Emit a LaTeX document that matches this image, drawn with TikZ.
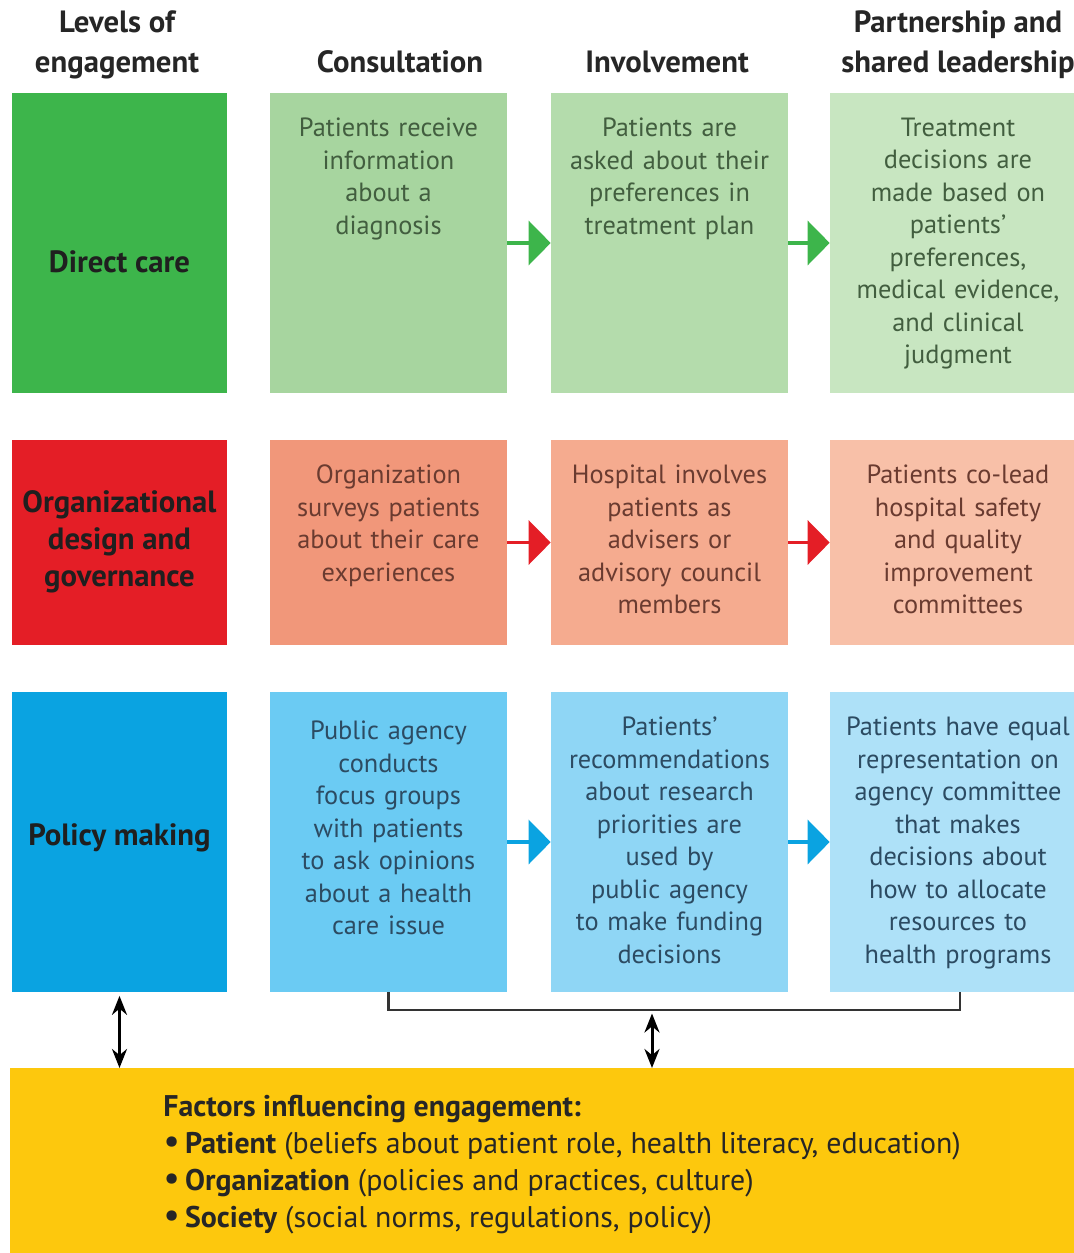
\documentclass[tikz,border=0pt]{standalone}
\usepackage{fontspec}
\setmainfont{PT Sans}
\usetikzlibrary{positioning}
\usetikzlibrary{arrows.meta}
\definecolor{verdeA}{HTML}{3DB54B}
\definecolor{verdeB}{HTML}{A7D59F}
\definecolor{verdeC}{HTML}{B4DCAC}
\definecolor{verdeD}{HTML}{C8E6C1}
\definecolor{rojoA}{HTML}{E41E26}
\definecolor{rojoB}{HTML}{F1977A}
\definecolor{rojoC}{HTML}{F5AB8F}
\definecolor{rojoD}{HTML}{F8C0A8}
\definecolor{azulA}{HTML}{0AA3E1}
\definecolor{azulB}{HTML}{6BCBF3}
\definecolor{azulC}{HTML}{8FD6F5}
\definecolor{azulD}{HTML}{AEE1F8}
\definecolor{amarillo}{HTML}{FDC80D}
\definecolor{textoV}{HTML}{425E3F}
\definecolor{textoR}{HTML}{6A3B30}
\definecolor{textoA}{HTML}{2C4B62}
\newcommand{\punto}{\smash{\fontsize{21}{21}\selectfont\textbullet}}

\begin{document}
\begin{tikzpicture}[x=0.02cm, y=-0.02cm,
	caja/.style={inner sep=0pt, minimum height=#1},
	celda/.style={inner sep=0pt, align=center, text width=4.8cm, font=\fontsize{15}{18.5}\selectfont},
	titulo/.style={inner sep=0pt, align=center, anchor=south, text depth=0.25em, text=black!85, font=\fontsize{17.5}{22.7}\selectfont\bfseries},
	nivel/.style={inner sep=0pt, align=center, text=black!88, font=\fontsize{17.5}{21}\selectfont\bfseries},
	flecha/.style={line width=1.8pt, -{Triangle[length=0.44cm, width=0.88cm]}},
	dobleflecha/.style={line width=1.7pt, {Stealth[length=3.8mm, width=3mm]}-{Stealth[length=3.8mm, width=3mm]}}]
	\useasboundingbox (0,0) rectangle (1074,1253);
	
	% Encabezados
	\node[titulo] (h1) at (117,77) {Levels of\\engagement};
	\node[titulo] (h2) at (400,77) {Consultation};
	\node[titulo] (h3) at (667,77) {Involvement};
	\node[titulo] (h4) at (958,77) {Partnership and\\shared leadership};
	
	% Cajas por fila
	\foreach \r/\y/\h/\col in {1/243/6cm/verde, 2/542.5/4.1cm/rojo, 3/842/6cm/azul} {
		\node[caja=\h, minimum width=4.3cm, fill=\col A] (c\r1) at (119.5,\y) {};
		\node[caja=\h, minimum width=4.74cm, fill=\col B] (c\r2) at (388.5,\y) {};
		\node[caja=\h, minimum width=4.74cm, fill=\col C] (c\r3) at (669.5,\y) {};
		\node[caja=\h, minimum width=5.2cm, fill=\col D] (c\r4) at (960,\y) {};
	}
	
	% Niveles
	\node[nivel] (n1) at (119.5,262) {Direct care};
	\node[nivel] (n2) at (119.5,542) {Organizational\\design and\\governance};
	\node[nivel] (n3) at (119.5,838) {Policy making};
	
	% Textos
	\node[celda, text=textoV, below=0.5cm of c12.north] (t12) {Patients receive\\information\\about a\\diagnosis};
	\node[celda, text=textoV, below=0.5cm of c13.north] (t13) {Patients are\\asked about their\\preferences in\\treatment plan};
	\node[celda, text=textoV, below=0.5cm of c14.north, xshift=-0.04cm] (t14) {Treatment\\decisions are\\made based on\\patients’\\preferences,\\medical evidence,\\and clinical\\judgment};
	\node[celda, text=textoR, below=0.5cm of c22.north] (t22) {Organization\\surveys patients\\about their care\\experiences};
	\node[celda, text=textoR, below=0.5cm of c23.north] (t23) {Hospital involves\\patients as\\advisers or\\advisory council\\members};
	\node[celda, text=textoR, below=0.5cm of c24.north, xshift=-0.04cm] (t24) {Patients co-lead\\hospital safety\\and quality\\improvement\\committees};
	\node[celda, text=textoA, below=0.58cm of c32.north] (t32) {Public agency\\conducts\\focus groups\\with patients\\to ask opinions\\about a health\\care issue};
	\node[celda, text=textoA, below=0.5cm of c33.north] (t33) {Patients’\\recommendations\\about research\\priorities are\\used by\\public agency\\to make funding\\decisions};
	\node[celda, text=textoA, below=0.5cm of c34.north, xshift=-0.04cm] (t34) {Patients have equal\\representation on\\agency committee\\that makes\\decisions about\\how to allocate\\resources to\\health programs};
	
	% Flechas entre columnas
	\foreach \r/\col in {1/verdeA, 2/rojoA, 3/azulA} {
		\draw[flecha, \col] (c\r2.east) -- (c\r3.west);
		\draw[flecha, \col] (c\r3.east) -- (c\r4.west);
	}
	
	% Caja de factores
	\node[inner sep=0pt, minimum width=21.6cm, minimum height=3.9cm, anchor=north west, fill=amarillo] (factors) at (10,1068) {};
	\node[inner sep=0pt, anchor=north west, align=left, text=black!85, font=\fontsize{17}{21}\selectfont] (ftext) at (163,1095)
		{\textbf{Factors influencing engagement:}\\
		\punto\,\textbf{Patient} (beliefs about patient role, health literacy, education)\\
		\punto\,\textbf{Organization} (policies and practices, culture)\\
		\punto\,\textbf{Society} (social norms, regulations, policy)};
	
	% Llave y conectores
	\coordinate (brk) at (652,1010);
	\draw[line width=1.4pt, black!80] (c32.south) -- (c32.south |- brk) -- (c34.south |- brk) -- (c34.south);
	\draw[dobleflecha] ([yshift=-2pt]brk) -- (brk |- factors.north);
	\draw[dobleflecha] ([yshift=-2pt]c31.south) -- (c31.south |- factors.north);
\end{tikzpicture}
\end{document}
